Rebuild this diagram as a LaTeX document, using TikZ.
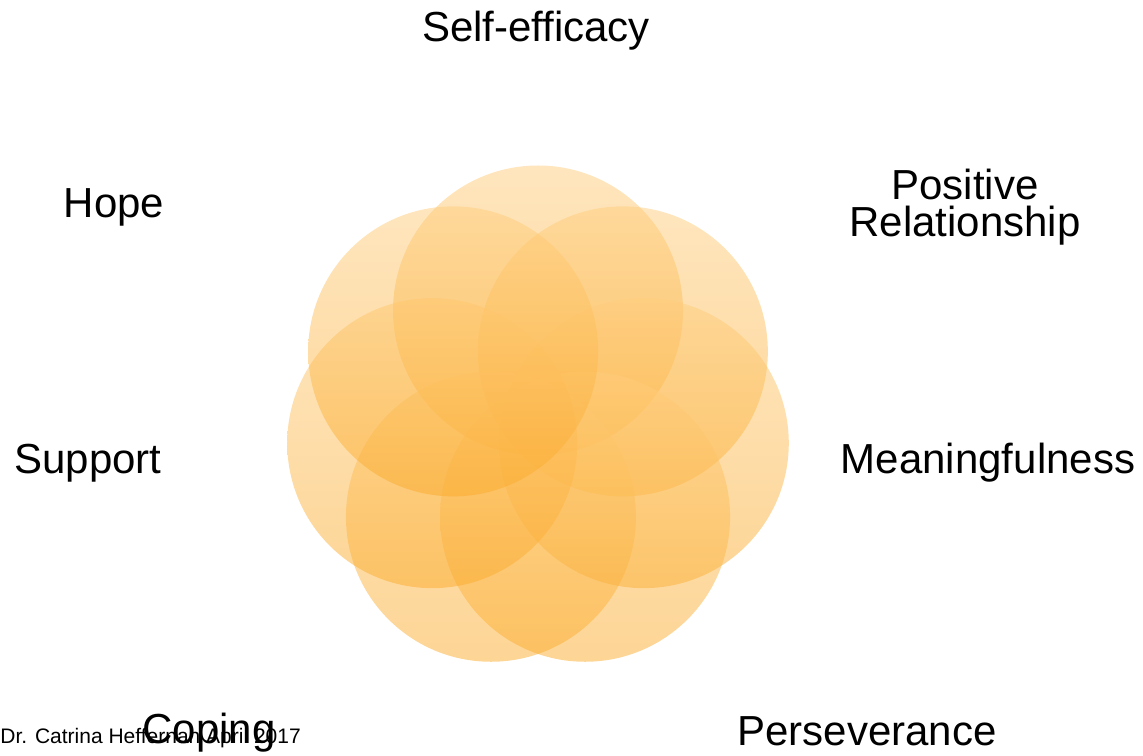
\documentclass[tikz,border=0pt]{standalone}
\usepackage{fontspec}
\setmainfont{Liberation Sans}
\usepackage{tikz}
\usetikzlibrary{calc,positioning}
\definecolor{cPetalTop}{RGB}{255,205,125}
\definecolor{cPetalBot}{RGB}{251,171,43}
\tikzset{
  petal/.style={circle,minimum size=145pt,inner sep=0pt,draw=none,
                top color=cPetalTop,bottom color=cPetalBot,fill opacity=0.5},
  lbl/.style={anchor=base,inner sep=0pt,align=center,
              font=\fontsize{21}{18.5}\selectfont},
  credit/.style={anchor=base west,inner sep=0pt,
                 font=\fontsize{10.5}{12}\selectfont}
}
\begin{document}
\begin{tikzpicture}[x=0.5pt,y=0.5pt]
  \useasboundingbox (0,0) rectangle (1143,755);
  \coordinate (mid) at (538,336);

  \node[petal] (pTop)  at ($(mid)+(90:108.5)$) {};
  \node[petal] (pUR)   at ($(mid)+(38.57:108.5)$) {};
  \node[petal] (pR)    at ($(mid)+(-12.86:108.5)$) {};
  \node[petal] (pLR)   at ($(mid)+(-64.29:108.5)$) {};
  \node[petal] (pLL)   at ($(mid)+(-115.71:108.5)$) {};
  \node[petal] (pL)    at ($(mid)+(-167.14:108.5)$) {};
  \node[petal] (pUL)   at ($(mid)+(141.43:108.5)$) {};

  \node[lbl] (selfeff) at (536,713) {Self-efficacy};
  \node[lbl] (posrel)  at (965,518) {Positive\\Relationship};
  \node[lbl] (hope)    at (114,537) {Hope};
  \node[lbl] (support) at (88,282)  {Support};
  \node[lbl] (meaning) at (988,282) {Meaningfulness};
  \node[credit] (author) at (0,12)  {Dr. Catrina Heffernan April 2017};
  \node[lbl] (coping)  at (209,12)  {Coping};
  \node[lbl] (persev)  at (867,10)  {Perseverance};
\end{tikzpicture}
\end{document}
